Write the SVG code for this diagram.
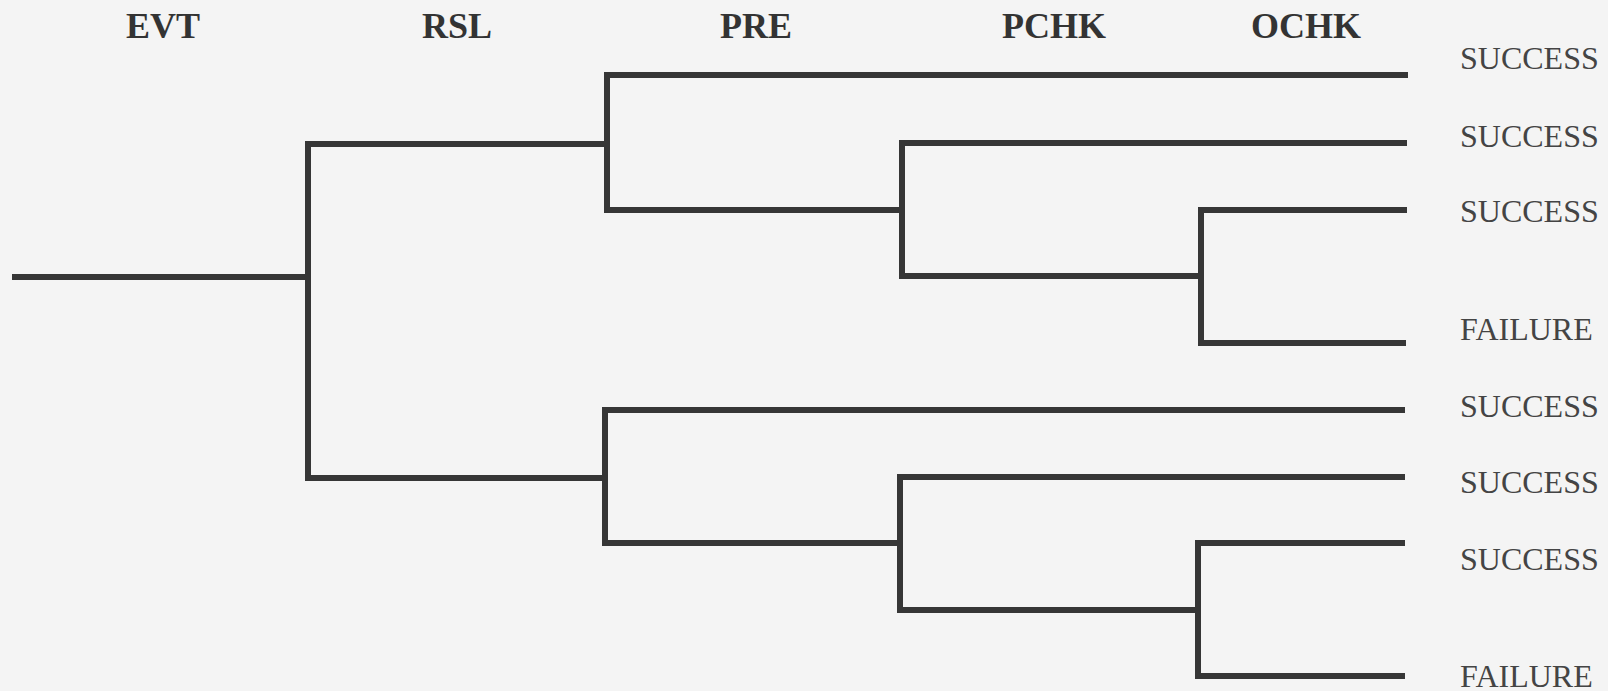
<svg xmlns="http://www.w3.org/2000/svg" width="1608" height="691" viewBox="0 0 1608 691">
  <style>
    .branch { fill: none; stroke: #363636; stroke-width: 6; stroke-linecap: butt; stroke-linejoin: miter; }
    .head { font-family: "Liberation Serif", "Times New Roman", serif; font-weight: bold; font-size: 36px; fill: #333333; text-anchor: middle; }
    .outcome { font-family: "Liberation Serif", "Times New Roman", serif; font-size: 32px; fill: #444444; }
  </style>
  <rect x="0" y="0" width="1608" height="691" fill="#f4f4f4"/>

  <!-- column headings (top events) -->
  <g id="headings">
    <text class="head" x="163" y="38">EVT</text>
    <text class="head" x="457" y="38">RSL</text>
    <text class="head" x="756" y="38">PRE</text>
    <text class="head" x="1054" y="38">PCHK</text>
    <text class="head" x="1306" y="38">OCHK</text>
  </g>

  <!-- event tree branches -->
  <g id="connectors">
    <!-- initiating event -->
    <path class="branch" d="M12 277 H308"/>
    <!-- RSL split -->
    <path class="branch" d="M607 144 H308 V478 H605"/>
    <!-- PRE split, upper -->
    <path class="branch" d="M1408 75 H607 V210 H902"/>
    <!-- PCHK split, upper -->
    <path class="branch" d="M1407 143 H902 V276 H1201"/>
    <!-- OCHK split, upper -->
    <path class="branch" d="M1407 210 H1201 V343 H1406"/>
    <!-- PRE split, lower -->
    <path class="branch" d="M1405 410 H605 V543 H900"/>
    <!-- PCHK split, lower -->
    <path class="branch" d="M1405 477 H900 V610 H1198"/>
    <!-- OCHK split, lower -->
    <path class="branch" d="M1405 543 H1198 V676 H1405"/>
  </g>

  <!-- end states -->
  <g id="end-state-1"><text class="outcome" x="1460" y="69">SUCCESS</text></g>
  <g id="end-state-2"><text class="outcome" x="1460" y="147">SUCCESS</text></g>
  <g id="end-state-3"><text class="outcome" x="1460" y="222">SUCCESS</text></g>
  <g id="end-state-4"><text class="outcome" x="1460" y="340">FAILURE</text></g>
  <g id="end-state-5"><text class="outcome" x="1460" y="417">SUCCESS</text></g>
  <g id="end-state-6"><text class="outcome" x="1460" y="493">SUCCESS</text></g>
  <g id="end-state-7"><text class="outcome" x="1460" y="570">SUCCESS</text></g>
  <g id="end-state-8"><text class="outcome" x="1460" y="687">FAILURE</text></g>
</svg>
